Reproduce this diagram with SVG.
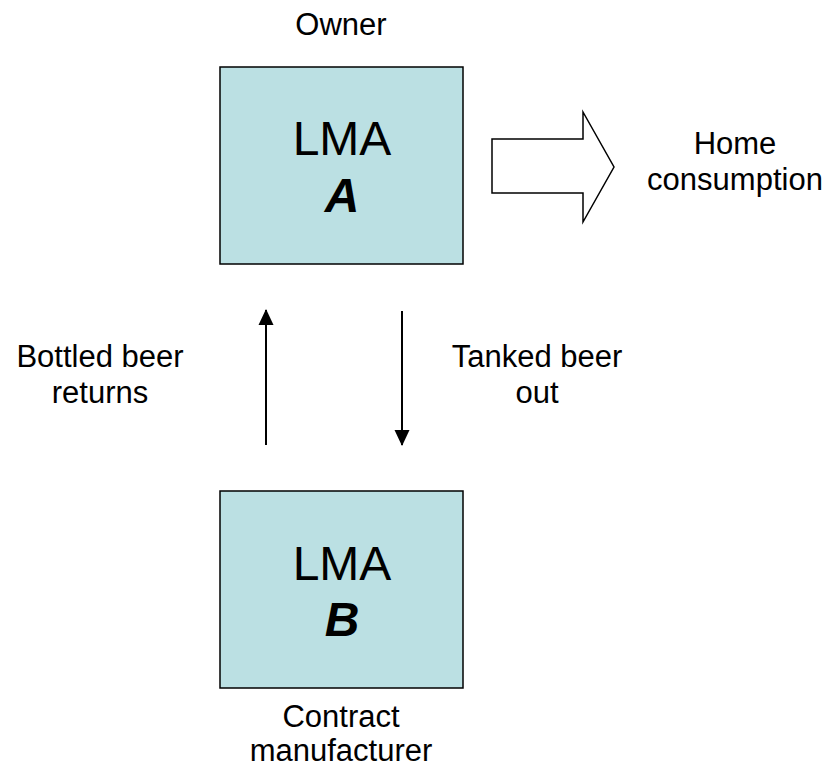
<svg xmlns="http://www.w3.org/2000/svg" width="828" height="768" viewBox="0 0 828 768">
<style>
.box{fill:#BBE0E3;stroke:#000;stroke-width:1.5}
.t{font-family:"Liberation Sans",Arial,sans-serif;font-size:31px;fill:#000;text-anchor:middle}
.big{font-family:"Liberation Sans",Arial,sans-serif;font-size:48px;fill:#000;text-anchor:middle}
.bi{font-weight:bold;font-style:italic}
.ln{stroke:#000;stroke-width:2;fill:none}
</style>
<defs>
<marker id="ah2" markerWidth="16" markerHeight="16" refX="15" refY="8" orient="auto" markerUnits="userSpaceOnUse" viewBox="0 0 16 16">
<path d="M0,0.5 L16,8 L0,15.5 Z" fill="#000"/>
</marker>
</defs>
<rect width="828" height="768" fill="#fff"/>
<g id="owner-label"><text class="t" x="341" y="35">Owner</text></g>
<g id="nodeA">
<rect class="box" x="220" y="67" width="243" height="197"/>
<text class="big" x="342" y="155">LMA</text>
<text class="big bi" x="342" y="212">A</text>
</g>
<g id="nodeB">
<rect class="box" x="220" y="491" width="243" height="197"/>
<text class="big" x="342" y="580">LMA</text>
<text class="big bi" x="342" y="636">B</text>
</g>
<g id="home">
<text class="t" x="735" y="154">Home</text>
<text class="t" x="735" y="190">consumption</text>
</g>
<g id="contract-label">
<text class="t" x="341" y="727">Contract</text>
<text class="t" x="341" y="761">manufacturer</text>
</g>
<g id="connectors">
<path d="M492,139 L583,139 L583,112 L614,167 L583,222 L583,193 L492,193 Z" fill="#fff" stroke="#000" stroke-width="1.5" stroke-linejoin="miter"/>
<line class="ln" x1="266" y1="445" x2="266" y2="310" marker-end="url(#ah2)"/>
<line class="ln" x1="402" y1="311" x2="402" y2="445" marker-end="url(#ah2)"/>
<text class="t" x="100" y="367">Bottled beer</text>
<text class="t" x="100" y="403">returns</text>
<text class="t" x="537" y="367">Tanked beer</text>
<text class="t" x="537" y="403">out</text>
</g>
</svg>
